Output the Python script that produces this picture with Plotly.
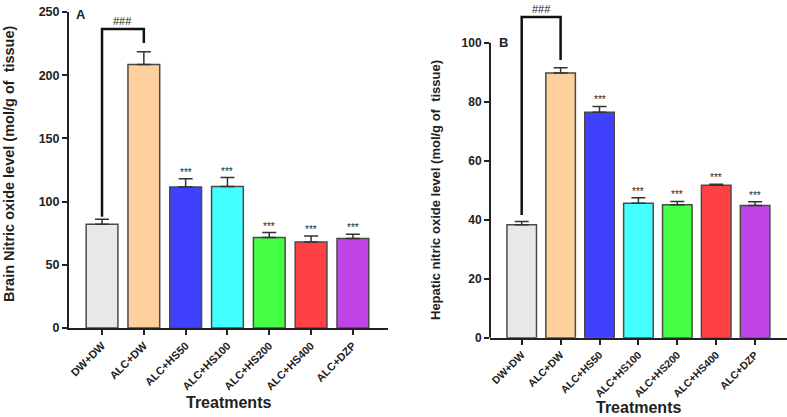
import plotly.graph_objects as go

categories = ["DW+DW", "ALC+DW", "ALC+HS50", "ALC+HS100", "ALC+HS200", "ALC+HS400", "ALC+DZP"]
colors = ["#e8e8e8", "#fdd09e", "#4040ff", "#44ffff", "#44ff44", "#ff4044", "#c044e8"]

brain_mean = [82, 208.5, 111.5, 112, 71.5, 68, 70.8]
brain_err = [4, 10, 6.5, 7, 4, 4.7, 3.3]
liver_mean = [38.3, 89.7, 76.4, 45.6, 45.1, 51.7, 44.8]
liver_err = [1.1, 1.8, 2.0, 1.8, 1.1, 0.3, 1.3]
stars = ["", "", "***", "***", "***", "***", "***"]

# significance bracket: (low end on DW+DW, top, low end on ALC+DW, label)
brain_bracket = [88, 236.5, 225.5, "###"]
liver_bracket = [41.6, 108.7, 94.1, "###"]

FONT = "Arial, Liberation Sans, sans-serif"
W, H = 787, 417

fig = go.Figure()
x_idx = list(range(len(categories)))

for means, errs, xa, ya in [(brain_mean, brain_err, "x", "y"), (liver_mean, liver_err, "x2", "y2")]:
    fig.add_trace(go.Bar(
        x=x_idx, y=means, width=0.76, xaxis=xa, yaxis=ya,
        marker=dict(color=colors, line=dict(color="#4a4a4a", width=1.5)),
        error_y=dict(type="data", symmetric=False, array=errs, arrayminus=[0] * len(errs),
                     color="#333333", thickness=1.5, width=7),
        showlegend=False, hoverinfo="skip",
    ))

axis_common = dict(showline=True, linecolor="#222222", linewidth=2, ticks="outside",
                   ticklen=5, tickwidth=1.5, tickcolor="#222222", showgrid=False,
                   zeroline=False, fixedrange=True, automargin=False)

fig.update_layout(
    template="none",
    width=W, height=H, margin=dict(l=0, r=0, t=0, b=0, pad=0),
    paper_bgcolor="white", plot_bgcolor="white",
    font=dict(family=FONT, color="#222222"),
    xaxis=dict(domain=[69 / W, 388 / W], range=[-0.79, 6.84], anchor="y",
               tickmode="array", tickvals=x_idx, ticktext=[f"<b>{c}</b>" for c in categories],
               tickangle=-45, tickfont=dict(size=11), **axis_common),
    yaxis=dict(domain=[89 / H, 405 / H], range=[0, 250], anchor="x",
               tickmode="array", tickvals=[0, 50, 100, 150, 200, 250],
               ticktext=[f"<b>{v}</b>" for v in [0, 50, 100, 150, 200, 250]],
               tickfont=dict(size=12.5), **axis_common),
    xaxis2=dict(domain=[490 / W, 1.0], range=[-0.815, 6.82], anchor="y2",
                tickmode="array", tickvals=x_idx, ticktext=[f"<b>{c}</b>" for c in categories],
                tickangle=-45, tickfont=dict(size=10.5), **axis_common),
    yaxis2=dict(domain=[79.3 / H, 409.7 / H], range=[0, 112], anchor="x2",
                tickmode="array", tickvals=[0, 20, 40, 60, 80, 100],
                ticktext=[f"<b>{v}</b>" for v in [0, 20, 40, 60, 80, 100]],
                tickfont=dict(size=12), **{**axis_common, "showline": False}),
)

# y-axis line for panel B only up to 100
fig.add_shape(type="line", xref="x2 domain", yref="y2", x0=0, x1=0, y0=0, y1=100,
              line=dict(color="#222222", width=2))

annotations = []
for means, errs, xa, ya, br in [(brain_mean, brain_err, "x", "y", brain_bracket),
                                 (liver_mean, liver_err, "x2", "y2", liver_bracket)]:
    for i, (m, e, s) in enumerate(zip(means, errs, stars)):
        if s:
            annotations.append(dict(x=i, y=m + e, xref=xa, yref=ya, text=s, showarrow=False,
                                    yanchor="bottom", yshift=-1, font=dict(size=10, color="#222222")))
    lo0, top, lo1, lab = br
    fig.add_shape(type="path", xref=xa, yref=ya,
                  path=f"M 0 {lo0} L 0 {top} L 1 {top} L 1 {lo1}",
                  line=dict(color="#111111", width=2.5))
    annotations.append(dict(x=0.5, y=top, xref=xa, yref=ya, text=lab, showarrow=False,
                            yanchor="bottom", yshift=0, font=dict(size=11, color="#222222")))

annotations += [
    dict(x=81 / W, y=1 - 14 / H, xref="paper", yref="paper", text="<b>A</b>", showarrow=False,
         font=dict(size=13), xanchor="center", yanchor="middle"),
    dict(x=503 / W, y=1 - 42 / H, xref="paper", yref="paper", text="<b>B</b>", showarrow=False,
         font=dict(size=13), xanchor="center", yanchor="middle"),
    dict(x=9 / W, y=1 - 164 / H, xref="paper", yref="paper",
         text="<b>Brain Nitric oxide level (mol/g of  tissue)</b>", textangle=-90,
         showarrow=False, font=dict(size=14.5), xanchor="center", yanchor="middle"),
    dict(x=435 / W, y=1 - 190 / H, xref="paper", yref="paper",
         text="<b>Hepatic nitric oxide level (mol/g of  tissue)</b>", textangle=-90,
         showarrow=False, font=dict(size=13), xanchor="center", yanchor="middle"),
    dict(x=228 / W, y=1 - 402 / H, xref="paper", yref="paper", text="<b>Treatments</b>",
         showarrow=False, font=dict(size=16), xanchor="center", yanchor="middle"),
    dict(x=638 / W, y=1 - 407 / H, xref="paper", yref="paper", text="<b>Treatments</b>",
         showarrow=False, font=dict(size=16), xanchor="center", yanchor="middle"),
]
fig.update_layout(annotations=annotations)

fig.write_html("out.html")
